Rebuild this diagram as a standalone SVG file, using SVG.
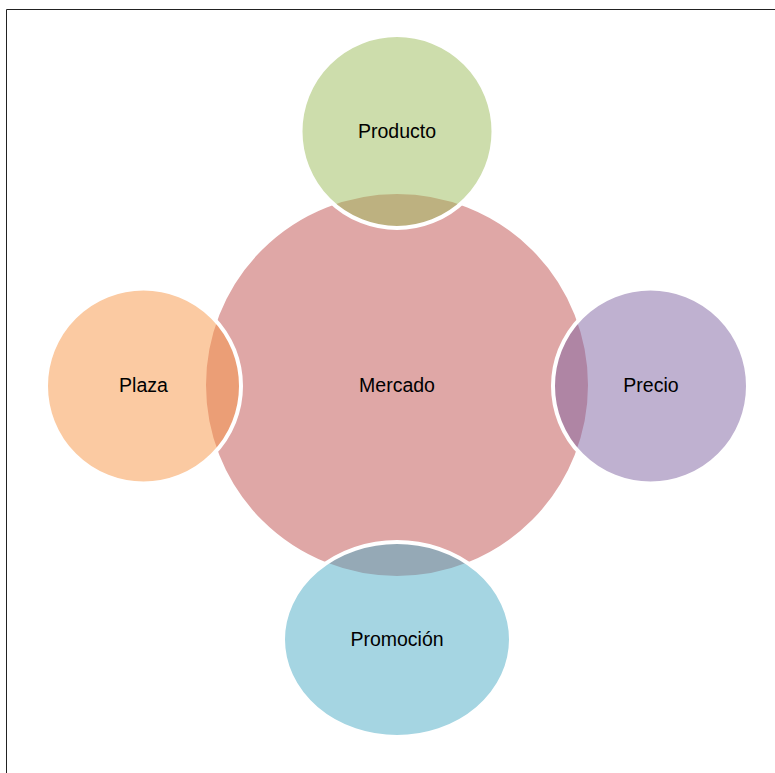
<svg xmlns="http://www.w3.org/2000/svg" width="775" height="773" viewBox="0 0 775 773">
<style>
.shape{fill-opacity:0.5;stroke:#ffffff;stroke-width:4}
.lbl{font-family:"Liberation Sans",Arial,sans-serif;font-size:19.5px;fill:#000;text-anchor:middle}
</style>
<rect width="775" height="773" fill="#ffffff"/>
<path d="M6.5 773 V9.5 H775" fill="none" stroke="#222" stroke-width="1"/>
<g id="connectors"></g>
<g id="mercado">
<circle class="shape" cx="397" cy="385" r="193" fill="#C0504D"/>
<text class="lbl" x="397" y="392">Mercado</text>
</g>
<g id="producto">
<circle class="shape" cx="397" cy="131.5" r="96.5" fill="#9BBB59"/>
<text class="lbl" x="397" y="138">Producto</text>
</g>
<g id="plaza">
<circle class="shape" cx="143.5" cy="386" r="97.5" fill="#F79646"/>
<text class="lbl" x="143.5" y="392">Plaza</text>
</g>
<g id="precio">
<circle class="shape" cx="650.5" cy="386" r="97.5" fill="#8064A2"/>
<text class="lbl" x="651" y="392">Precio</text>
</g>
<g id="promocion">
<ellipse class="shape" cx="397" cy="639.5" rx="114" ry="97.5" fill="#4BACC6"/>
<text class="lbl" x="397" y="646">Promoción</text>
</g>
</svg>
